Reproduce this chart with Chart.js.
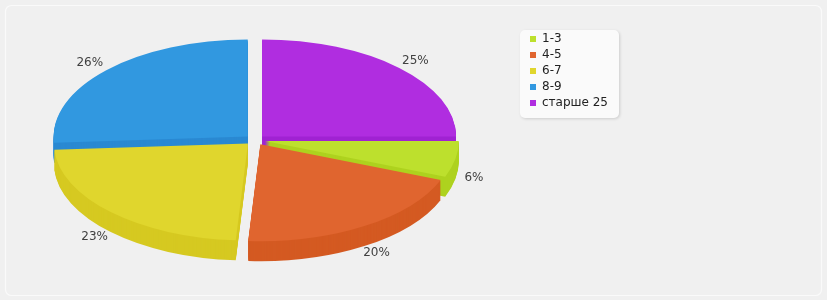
<!DOCTYPE html>
<html>
<head>
<meta charset="utf-8">
<script src="https://cdn.jsdelivr.net/npm/chart.js@4"></script>
<style>
  html, body { margin: 0; padding: 0; background: #F0F0F0; }
  #wrap { width: 827px; height: 300px; position: relative; }
  canvas { display: block; }
</style>
</head>
<body>
<div id="wrap"><canvas id="c" width="827" height="300"></canvas></div>
<script>
// ---- data ----
const categories = ['1-3', '4-5', '6-7', '8-9', 'старше 25'];
const values = [6, 20, 23, 26, 25];
const topColors = ['#BDE02D', '#E0652F', '#E0D62D', '#3198E0', '#B02DE0'];
const sideColors = ['#AED21F', '#D45A22', '#D6C921', '#2A89D2', '#A023D2'];

// ---- projection / style ----
const PIE = { cx: 255, cy: 140, rx: 194, ry: 97, depth: 20, explodeX: 10 };
const FONT = '"DejaVu Sans", sans-serif';

function midAngle(a) { return (a.startAngle + a.endAngle) / 2; }

const pie3d = {
  id: 'pie3d',
  beforeDraw(chart) {
    const ctx = chart.ctx;
    ctx.save();
    // outer frame
    ctx.beginPath();
    ctx.roundRect(5.5, 5.5, chart.width - 11, chart.height - 10, 6);
    ctx.strokeStyle = '#FAFAFA';
    ctx.lineWidth = 1.2;
    ctx.stroke();
    // legend box
    const lg = chart.legend;
    const bx = lg.left - 6, by = lg.top + 1;
    const bw = lg.width + 7, bh = 88;
    ctx.shadowColor = 'rgba(0,0,0,0.15)';
    ctx.shadowBlur = 3;
    ctx.shadowOffsetX = 1;
    ctx.shadowOffsetY = 1;
    ctx.beginPath();
    ctx.roundRect(bx, by, bw, bh, 5);
    ctx.fillStyle = '#FAFAFA';
    ctx.fill();
    ctx.restore();
  },
  beforeDatasetsDraw(chart) {
    const ctx = chart.ctx;
    const arcs = chart.getDatasetMeta(0).data;
    const R = arcs[0].outerRadius;
    const ox = arcs[0].x, oy = arcs[0].y;
    const sx = PIE.rx / R, sy = PIE.ry / R;
    const e = PIE.explodeX / sx;
    const order = arcs.map((a, i) => i).sort((i, j) => Math.sin(midAngle(arcs[i])) - Math.sin(midAngle(arcs[j])));
    for (const i of order) {
      const a = arcs[i];
      const m = midAngle(a);
      const saved = a.options;
      const side = Object.create(saved);
      side.backgroundColor = sideColors[i];
      a.options = side;
      for (let k = PIE.depth; k >= 1; k--) {
        ctx.save();
        ctx.translate(PIE.cx, PIE.cy + k);
        ctx.scale(sx, sy);
        ctx.translate(-ox + Math.cos(m) * e, -oy + Math.sin(m) * e);
        a.draw(ctx);
        ctx.restore();
      }
      a.options = saved;
      ctx.save();
      ctx.translate(PIE.cx, PIE.cy);
      ctx.scale(sx, sy);
      ctx.translate(-ox + Math.cos(m) * e, -oy + Math.sin(m) * e);
      a.draw(ctx);
      ctx.restore();
    }
    // labels
    const total = values.reduce((s, v) => s + v, 0);
    ctx.save();
    ctx.font = '12px ' + FONT;
    ctx.fillStyle = '#404040';
    ctx.textBaseline = 'middle';
    ctx.textAlign = 'center';
    arcs.forEach((a, i) => {
      const m = midAngle(a);
      const c = Math.cos(m), s = Math.sin(m);
      const txt = Math.round(values[i] / total * 100) + '%';
      const w = ctx.measureText(txt).width;
      const lx = PIE.cx + c * PIE.rx * 1.10 + c * w / 2;
      const ly = PIE.cy + s * PIE.ry * 1.17 + (s > 0 ? PIE.depth * 0.8 : 0) + 1;
      ctx.fillText(txt, lx, ly);
    });
    ctx.restore();
    return false;
  }
};

// legend placement: measure longest label
const mctx = document.createElement('canvas').getContext('2d');
mctx.font = '12px ' + FONT;
const maxTextW = Math.max(...categories.map(t => mctx.measureText(t).width));
const legendLeft = 526;
const legendW = 4 + 6 + 6 + maxTextW + 10;
const padRight = Math.round(827 - legendLeft - legendW);

new Chart(document.getElementById('c'), {
  type: 'pie',
  data: {
    labels: categories,
    datasets: [{
      data: values,
      backgroundColor: topColors,
      borderWidth: 0
    }]
  },
  options: {
    responsive: false,
    animation: false,
    devicePixelRatio: 1,
    rotation: 90,
    layout: { padding: { top: 29, right: padRight, bottom: 40, left: 0 } },
    plugins: {
      tooltip: { enabled: false },
      legend: {
        position: 'right',
        align: 'start',
        labels: {
          boxWidth: 6,
          boxHeight: 6,
          padding: 4,
          color: '#222',
          font: { family: FONT, size: 12 }
        }
      }
    }
  },
  plugins: [pie3d]
});
</script>
</body>
</html>
